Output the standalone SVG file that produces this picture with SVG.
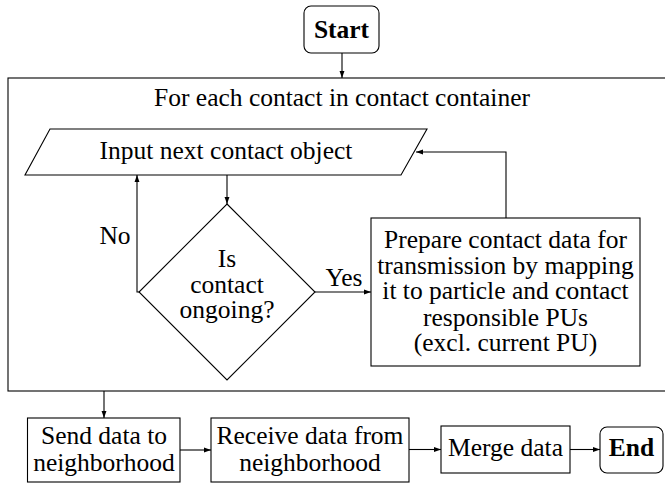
<svg xmlns="http://www.w3.org/2000/svg" width="665" height="485" viewBox="0 0 665 485">
<style>
.s{fill:#fff;stroke:#000;stroke-width:1.1}
.t{font-family:"Liberation Serif","DejaVu Serif",serif;font-size:25.5px;fill:#000;text-anchor:middle;dominant-baseline:central}
.b{font-weight:bold}
.c{fill:none;stroke:#000;stroke-width:1.1}
</style>
<defs>
<marker id="a" viewBox="0 0 10 10" refX="10" refY="5" markerWidth="7" markerHeight="7" markerUnits="userSpaceOnUse" orient="auto">
<path d="M0,1.5 L10,5 L0,8.5 z" fill="#000"/>
</marker>
</defs>
<rect x="-1" y="-1" width="667" height="487" fill="#fff"/>
<g id="container">
<rect class="s" x="8" y="78" width="670" height="313"/>
<text class="t" x="342" y="97.5">For each contact in contact container</text>
</g>
<g id="start">
<rect class="s" x="304" y="6" width="75" height="47" rx="7"/>
<text class="t b" x="341.5" y="29">Start</text>
</g>
<g id="input">
<polygon class="s" points="50,129 427,129 401,175 25,175"/>
<text class="t" x="226" y="150.5">Input next contact object</text>
</g>
<g id="decision">
<polygon class="s" points="227,204 315,292 227,380 139,292"/>
<text class="t" x="227" y="258.5">Is</text>
<text class="t" x="227" y="284.5">contact</text>
<text class="t" x="227" y="309.5">ongoing?</text>
</g>
<g id="prepare">
<rect class="s" x="371" y="218" width="269" height="148"/>
<text class="t" x="505.5" y="239.5">Prepare contact data for</text>
<text class="t" x="505.5" y="265.5">transmission by mapping</text>
<text class="t" x="505.5" y="290.5">it to particle and contact</text>
<text class="t" x="505.5" y="317.5">responsible PUs</text>
<text class="t" x="505.5" y="342.5">(excl. current PU)</text>
</g>
<g id="send">
<rect class="s" x="27.5" y="418" width="152.5" height="64"/>
<text class="t" x="104" y="435.5">Send data to</text>
<text class="t" x="104" y="462.5">neighborhood</text>
</g>
<g id="receive">
<rect class="s" x="211" y="418" width="198" height="64"/>
<text class="t" x="310" y="435.5">Receive data from</text>
<text class="t" x="310" y="462.5">neighborhood</text>
</g>
<g id="merge">
<rect class="s" x="441" y="426" width="129" height="47"/>
<text class="t" x="505.5" y="447.5">Merge data</text>
</g>
<g id="end">
<rect class="s" x="600" y="427" width="63" height="46" rx="7"/>
<text class="t b" x="631.5" y="447.5">End</text>
</g>
<g id="connectors">
<line class="c" x1="342" y1="53" x2="342" y2="78" marker-end="url(#a)"/>
<line class="c" x1="227" y1="175" x2="227" y2="204" marker-end="url(#a)"/>
<polyline class="c" points="139,292 137,292 137,175" marker-end="url(#a)"/>
<text class="t" x="115" y="235.5">No</text>
<line class="c" x1="315" y1="292" x2="371" y2="292" marker-end="url(#a)"/>
<text class="t" x="344" y="277.5">Yes</text>
<polyline class="c" points="506,218 506,152 416,152" marker-end="url(#a)"/>
<line class="c" x1="104" y1="391" x2="104" y2="418" marker-end="url(#a)"/>
<line class="c" x1="180" y1="450" x2="211" y2="450" marker-end="url(#a)"/>
<line class="c" x1="409" y1="449.5" x2="441" y2="449.5" marker-end="url(#a)"/>
<line class="c" x1="570" y1="449.5" x2="600" y2="449.5" marker-end="url(#a)"/>
</g>
</svg>
